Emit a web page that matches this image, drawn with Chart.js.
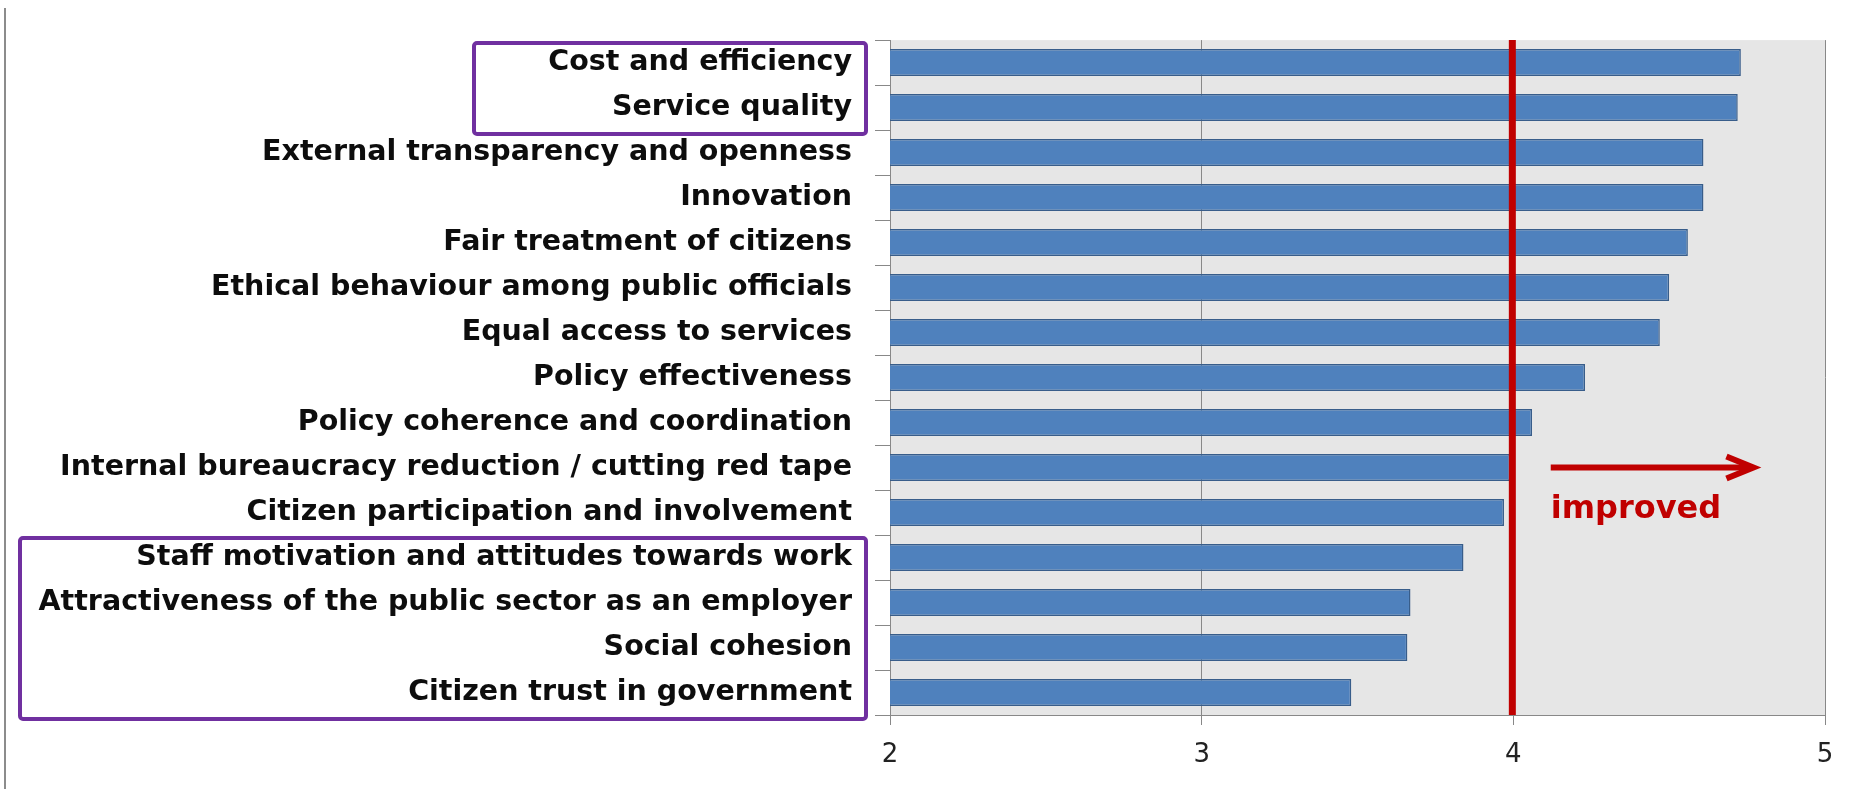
<!DOCTYPE html>
<html>
<head>
<meta charset="utf-8">
<script src="https://cdn.jsdelivr.net/npm/chart.js@4.4.0/dist/chart.umd.min.js"></script>
<style>
  html, body { margin: 0; padding: 0; background: #fff; }
  #wrap { width: 1872px; height: 789px; }
</style>
</head>
<body>
<div id="wrap"><canvas id="reformChart" width="1872" height="789"></canvas></div>
<script>
var categories = [
  'Cost and efficiency',
  'Service quality',
  'External transparency and openness',
  'Innovation',
  'Fair treatment of citizens',
  'Ethical behaviour among public officials',
  'Equal access to services',
  'Policy effectiveness',
  'Policy coherence and coordination',
  'Internal bureaucracy reduction / cutting red tape',
  'Citizen participation and involvement',
  'Staff motivation and attitudes towards work',
  'Attractiveness of the public sector as an employer',
  'Social cohesion',
  'Citizen trust in government'
];
var scores = [4.73, 4.72, 4.61, 4.61, 4.56, 4.50, 4.47, 4.23, 4.06, 3.99, 3.97, 3.84, 3.67, 3.66, 3.48];
var xMin = 2, xMax = 5;

// red reference line and the "improved" note
var baseline = 4;
var arrowStart = 4.12, arrowEnd = 4.78;
var arrowRow = 9, noteRow = 10;
var noteText = 'improved';

// rows framed in purple (first and last index of each group)
var boxedGroups = [[0, 1], [11, 14]];

var canvas = document.getElementById('reformChart');

var decorPlugin = {
  id: 'decor',
  beforeDraw: function(chart) {
    var ctx = chart.ctx, a = chart.chartArea;
    ctx.save();
    ctx.fillStyle = '#e6e6e6';
    ctx.fillRect(a.left, a.top, a.right - a.left, a.bottom - a.top);
    ctx.restore();
  },
  afterDatasetsDraw: function(chart) {
    var ctx = chart.ctx, a = chart.chartArea;
    var xs = chart.scales.x, ys = chart.scales.y;

    ctx.save();
    // threshold line
    var bx = xs.getPixelForValue(baseline) - 1;
    ctx.strokeStyle = '#c00000';
    ctx.lineWidth = 7;
    ctx.beginPath();
    ctx.moveTo(bx, a.top);
    ctx.lineTo(bx, a.bottom);
    ctx.stroke();

    // arrow
    var ay = ys.getPixelForValue(arrowRow);
    var x1 = xs.getPixelForValue(arrowStart), x2 = xs.getPixelForValue(arrowEnd);
    ctx.lineWidth = 6;
    ctx.beginPath();
    ctx.moveTo(x1, ay);
    ctx.lineTo(x2 - 4, ay);
    ctx.stroke();
    ctx.lineJoin = 'miter';
    ctx.beginPath();
    ctx.moveTo(x2 - 30, ay - 11);
    ctx.lineTo(x2 - 3, ay);
    ctx.lineTo(x2 - 30, ay + 11);
    ctx.stroke();

    ctx.fillStyle = '#c00000';
    ctx.font = 'bold 32px "DejaVu Sans"';
    ctx.textAlign = 'left';
    ctx.textBaseline = 'alphabetic';
    ctx.fillText(noteText, x1, ys.getPixelForValue(noteRow) + 5);
    ctx.restore();
  },
  afterDraw: function(chart) {
    var ctx = chart.ctx, a = chart.chartArea;
    var ys = chart.scales.y;
    var rowH = (a.bottom - a.top) / categories.length;
    var lefts = [474, 20];

    ctx.save();
    ctx.strokeStyle = '#7030a0';
    ctx.lineWidth = 4;
    boxedGroups.forEach(function(g, i) {
      var top = ys.getPixelForValue(g[0]) - rowH / 2 + 3;
      var bottom = ys.getPixelForValue(g[1]) + rowH / 2 + 4;
      ctx.beginPath();
      if (ctx.roundRect) ctx.roundRect(lefts[i], top, 866 - lefts[i], bottom - top, 3);
      else ctx.rect(lefts[i], top, 866 - lefts[i], bottom - top);
      ctx.stroke();
    });

    // thin frame line at the left edge
    ctx.fillStyle = '#8c8c8c';
    ctx.fillRect(4, 8, 2, chart.height - 8);
    ctx.restore();
  }
};

var reformChart = new Chart(canvas, {
  type: 'bar',
  data: {
    labels: categories,
    datasets: [{
      data: scores,
      backgroundColor: '#4f81bd',
      borderColor: '#385d8a',
      borderWidth: 1.5,
      barPercentage: 0.6,
      categoryPercentage: 1
    }]
  },
  options: {
    indexAxis: 'y',
    responsive: false,
    animation: false,
    layout: { padding: { top: 35, right: 47, left: 0, bottom: 0 } },
    plugins: {
      legend: { display: false },
      tooltip: { enabled: false }
    },
    scales: {
      y: {
        afterFit: function(scale) { scale.width = 890; },
        grid: { offset: true, drawOnChartArea: false, tickLength: 15, color: '#888888' },
        border: { display: true, color: '#888888', width: 1 },
        ticks: {
          autoSkip: false,
          padding: 23,
          color: '#0d0d0d',
          font: { family: 'DejaVu Sans', size: 28.5, weight: 'bold' }
        }
      },
      x: {
        min: xMin,
        max: xMax,
        afterFit: function(scale) { scale.height = 74; },
        grid: { color: '#888888', tickLength: 10 },
        border: { display: true, color: '#888888', width: 1 },
        ticks: {
          stepSize: 1,
          padding: 15,
          color: '#222222',
          font: { family: 'DejaVu Sans', size: 26 }
        }
      }
    }
  },
  plugins: [decorPlugin]
});
</script>
</body>
</html>
